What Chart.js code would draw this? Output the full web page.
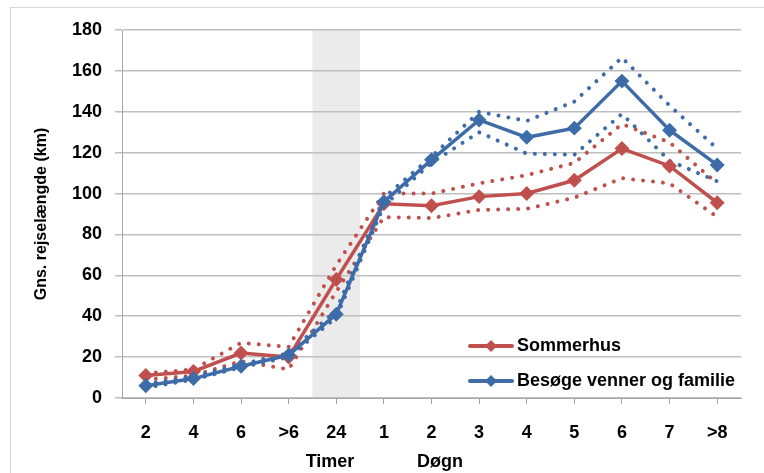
<!DOCTYPE html>
<html>
<head>
<meta charset="utf-8">
<script src="https://cdn.jsdelivr.net/npm/chart.js@4"></script>
<style>
  html, body { margin: 0; padding: 0; background: #fff; }
  #wrap { width: 764px; height: 473px; position: relative; }
</style>
</head>
<body>
<div id="wrap"><canvas id="rejseChart"></canvas></div>
<script>
// Gns. rejselængde (km) efter varighed
const categories = ['2', '4', '6', '>6', '24', '1', '2', '3', '4', '5', '6', '7', '>8'];
const yTicks = [0, 20, 40, 60, 80, 100, 120, 140, 160, 180];

const sommerhus     = [11, 13, 22, 20, 58, 95, 94, 98.5, 100, 106.5, 122, 113.5, 95.5];
const sommerhusHigh = [12, 14, 27, 25, 65, 100, 100, 105, 109, 115, 134, 125, 105];
const sommerhusLow  = [9, 11, 18, 14, 52, 88.5, 88, 92, 92.5, 98, 107.5, 105, 88.5];

const besoeg     = [6, 9.5, 15.5, 21, 41, 96, 116.5, 136, 127.5, 132, 155, 131, 114];
const besoegHigh = [7, 10.5, 16.5, 22, 43, 98, 118, 140, 135.5, 145, 166.5, 143, 122];
const besoegLow  = [5, 9, 15, 20, 39.5, 94, 115, 130, 119.5, 119, 139, 116, 106];

const RED = '#C0504D';
const BLUE = '#3D6CA8';
const FONT = '"Liberation Sans", Arial, sans-serif';

function mainLine(label, data, color) {
    return {
        label,
        data,
        borderColor: color,
        backgroundColor: color,
        borderWidth: 3.5,
        pointStyle: 'rectRot',
        pointRadius: 5,
        pointBackgroundColor: color,
        pointBorderColor: color,
        tension: 0
    };
}

function dottedLine(label, data, color) {
    return {
        label,
        data,
        borderColor: color,
        borderWidth: 4,
        borderDash: [0.01, 10],
        borderCapStyle: 'round',
        pointRadius: 0,
        tension: 0
    };
}

// grå markering af "24"-kategorien, akse-titler og forklaring
const extras = {
    id: 'extras',
    beforeDraw(chart) {
        const { ctx, chartArea, scales: { x } } = chart;
        const half = (x.getPixelForValue(1) - x.getPixelForValue(0)) / 2;
        const cx = x.getPixelForValue(4);
        ctx.save();
        ctx.fillStyle = '#EBEBEB';
        ctx.fillRect(cx - half, chartArea.top, half * 2, chartArea.bottom - chartArea.top);
        ctx.restore();
    },
    afterDraw(chart) {
        const { ctx, chartArea } = chart;
        ctx.save();
        ctx.fillStyle = '#000';
        ctx.textBaseline = 'middle';

        // y-titel
        ctx.save();
        ctx.translate(42, (chartArea.top + chartArea.bottom) / 2);
        ctx.rotate(-Math.PI / 2);
        ctx.textAlign = 'center';
        ctx.font = 'bold 16px ' + FONT;
        ctx.fillText('Gns. rejselængde (km)', 0, 0, 195);
        ctx.restore();

        // gruppe-titler under x-aksen
        ctx.textAlign = 'center';
        ctx.font = 'bold 18px ' + FONT;
        ctx.fillText('Timer', 330, 462, 54);
        ctx.fillText('Døgn', 440, 462, 46);

        // forklaring
        const items = [['Sommerhus', RED, 346, 105], ['Besøge venner og familie', BLUE, 381, 218]];
        items.forEach(([text, color, y, w]) => {
            ctx.strokeStyle = color;
            ctx.lineWidth = 4;
            ctx.lineCap = 'round';
            ctx.beginPath();
            ctx.moveTo(470, y);
            ctx.lineTo(512, y);
            ctx.stroke();
            ctx.fillStyle = color;
            ctx.beginPath();
            ctx.moveTo(491, y - 6);
            ctx.lineTo(497, y);
            ctx.lineTo(491, y + 6);
            ctx.lineTo(485, y);
            ctx.closePath();
            ctx.fill();
            ctx.fillStyle = '#000';
            ctx.textAlign = 'left';
            ctx.font = 'bold 18px ' + FONT;
            ctx.fillText(text, 517, y, w);
        });

        // ydre ramme
        ctx.strokeStyle = '#D9D9D9';
        ctx.lineWidth = 1;
        ctx.strokeRect(10.5, 7.5, 800, 500);
        ctx.restore();
    }
};

function renderChart() {
    const ctx = document.getElementById('rejseChart');
    new Chart(ctx, {
        type: 'line',
        data: {
            labels: categories,
            datasets: [
                mainLine('Besøge venner og familie', besoeg, BLUE),
                mainLine('Sommerhus', sommerhus, RED),
                dottedLine('Besøge øvre', besoegHigh, BLUE),
                dottedLine('Besøge nedre', besoegLow, BLUE),
                dottedLine('Sommerhus øvre', sommerhusHigh, RED),
                dottedLine('Sommerhus nedre', sommerhusLow, RED)
            ]
        },
        options: {
            responsive: true,
            maintainAspectRatio: false,
            animation: false,
            layout: { padding: { left: 0, right: 23, top: 30, bottom: 0 } },
            plugins: {
                legend: { display: false },
                tooltip: { enabled: false }
            },
            scales: {
                x: {
                    offset: true,
                    grid: {
                        drawOnChartArea: false,
                        drawTicks: true,
                        tickLength: 6,
                        color: '#A6A6A6',
                        lineWidth: 1
                    },
                    border: { color: '#A6A6A6', width: 1 },
                    ticks: {
                        color: '#000',
                        padding: 18,
                        maxRotation: 0,
                        autoSkip: false,
                        font: { family: FONT, size: 18, weight: 'bold' }
                    },
                    afterFit: scale => { scale.height = 75; }
                },
                y: {
                    min: 0,
                    max: 180,
                    afterBuildTicks: scale => { scale.ticks = yTicks.map(v => ({ value: v })); },
                    grid: {
                        color: '#BFBFBF',
                        lineWidth: 1.5,
                        tickLength: 7
                    },
                    border: { color: '#A6A6A6', width: 1 },
                    ticks: {
                        color: '#000',
                        padding: 13,
                        font: { family: FONT, size: 18, weight: 'bold' }
                    },
                    afterFit: scale => { scale.width = 122; }
                }
            }
        },
        plugins: [extras]
    });
}

document.addEventListener('DOMContentLoaded', () => {
    renderChart();
});
</script>
</body>
</html>
